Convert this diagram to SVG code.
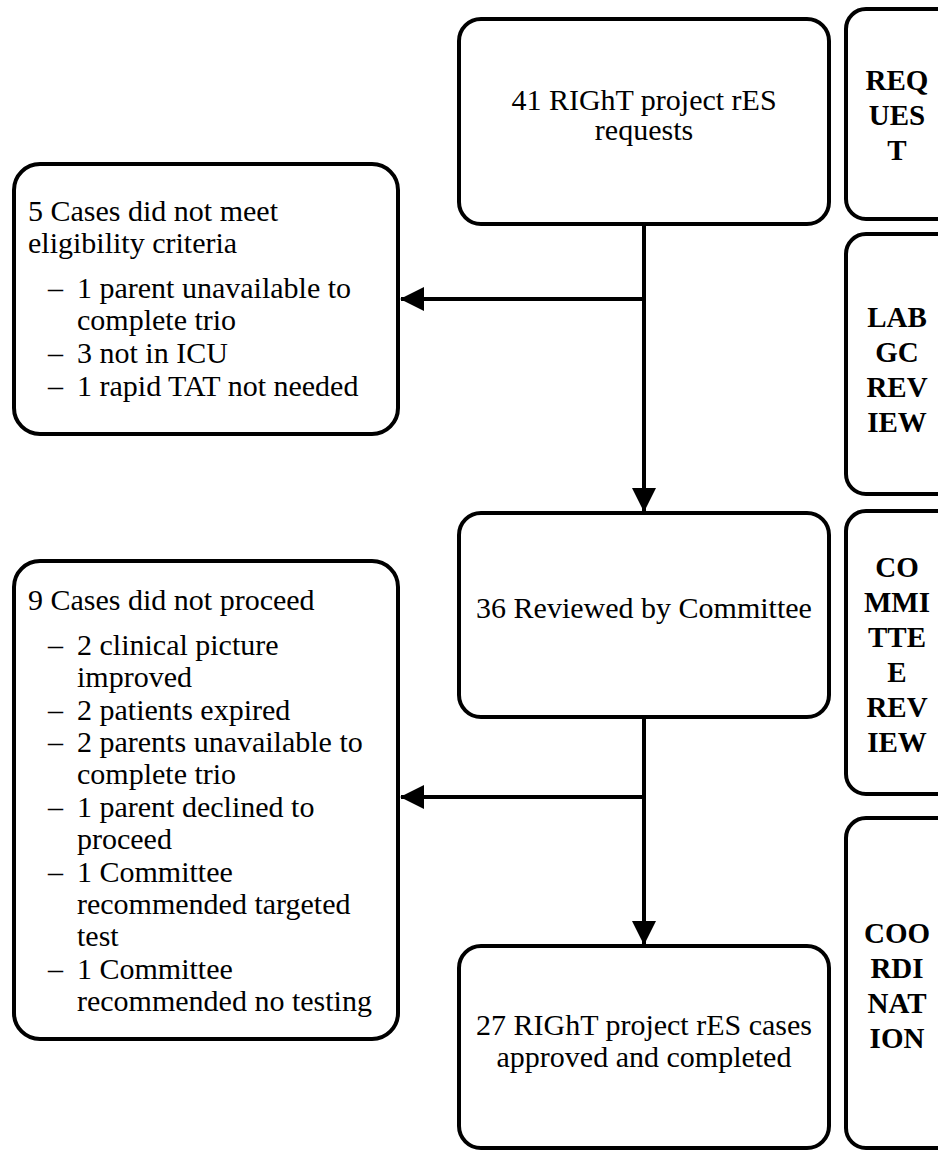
<svg xmlns="http://www.w3.org/2000/svg" width="938" height="1151" viewBox="0 0 938 1151">
<defs>
<style>
.box{fill:#fff;stroke:#000;stroke-width:4}
.t{font-size:30px;fill:#000}
.c{text-anchor:middle}
.lab{font-size:29px;font-weight:bold;fill:#000;text-anchor:middle}
.con{stroke:#000;stroke-width:4;fill:none}
</style>
<marker id="ah" markerUnits="userSpaceOnUse" markerWidth="24" markerHeight="24" viewBox="0 0 24 24" refX="23" refY="12" orient="auto">
<path d="M0,0 L24,12 L0,24 Z" fill="#000"/>
</marker>
</defs>
<rect width="938" height="1151" fill="#fff"/>
<g id="connectors">
<line class="con" x1="644" y1="225" x2="644" y2="511" marker-end="url(#ah)"/>
<line class="con" x1="646" y1="299" x2="401" y2="299" marker-end="url(#ah)"/>
<line class="con" x1="644" y1="717" x2="644" y2="944" marker-end="url(#ah)"/>
<line class="con" x1="646" y1="797" x2="401" y2="797" marker-end="url(#ah)"/>
</g>
<g font-family="'Liberation Serif', 'Times New Roman', 'DejaVu Serif', serif">
<g id="n1">
<rect class="box" x="459" y="19" width="370" height="205" rx="22"/>
<text class="t c" x="644" y="110">41 RIGhT project rES</text>
<text class="t c" x="644" y="140">requests</text>
</g>
<g id="n2">
<rect class="box" x="459" y="513" width="370" height="204" rx="22"/>
<text class="t c" x="644" y="618">36 Reviewed by Committee</text>
</g>
<g id="n3">
<rect class="box" x="459" y="946" width="370" height="202" rx="22"/>
<text class="t c" x="644" y="1035">27 RIGhT project rES cases</text>
<text class="t c" x="644" y="1067">approved and completed</text>
</g>
<g id="x1">
<rect class="box" x="14" y="164" width="384" height="270" rx="26"/>
<text class="t" x="28" y="221">5 Cases did not meet</text>
<text class="t" x="28" y="253">eligibility criteria</text>
<text class="t" x="48" y="298">–</text><text class="t" x="77" y="298">1 parent unavailable to</text>
<text class="t" x="77" y="330">complete trio</text>
<text class="t" x="48" y="363">–</text><text class="t" x="77" y="363">3 not in ICU</text>
<text class="t" x="48" y="396">–</text><text class="t" x="77" y="396">1 rapid TAT not needed</text>
</g>
<g id="x2">
<rect class="box" x="14" y="561" width="384" height="478" rx="26"/>
<text class="t" x="28" y="610">9 Cases did not proceed</text>
<text class="t" x="48" y="655">–</text><text class="t" x="77" y="655">2 clinical picture</text>
<text class="t" x="77" y="687">improved</text>
<text class="t" x="48" y="720">–</text><text class="t" x="77" y="720">2 patients expired</text>
<text class="t" x="48" y="752">–</text><text class="t" x="77" y="752">2 parents unavailable to</text>
<text class="t" x="77" y="784">complete trio</text>
<text class="t" x="48" y="817">–</text><text class="t" x="77" y="817">1 parent declined to</text>
<text class="t" x="77" y="849">proceed</text>
<text class="t" x="48" y="882">–</text><text class="t" x="77" y="882">1 Committee</text>
<text class="t" x="77" y="914">recommended targeted</text>
<text class="t" x="77" y="946">test</text>
<text class="t" x="48" y="979">–</text><text class="t" x="77" y="979">1 Committee</text>
<text class="t" x="77" y="1011">recommended no testing</text>
</g>
<g id="s1">
<rect class="box" x="846" y="9" width="110" height="210" rx="20"/>
<text class="lab" x="897" y="90">REQ</text>
<text class="lab" x="897" y="125">UES</text>
<text class="lab" x="897" y="160">T</text>
</g>
<g id="s2">
<rect class="box" x="846" y="234" width="110" height="260" rx="20"/>
<text class="lab" x="897" y="327">LAB</text>
<text class="lab" x="897" y="362">GC</text>
<text class="lab" x="897" y="397">REV</text>
<text class="lab" x="897" y="432">IEW</text>
</g>
<g id="s3">
<rect class="box" x="846" y="511" width="110" height="283" rx="20"/>
<text class="lab" x="897" y="577">CO</text>
<text class="lab" x="897" y="612">MMI</text>
<text class="lab" x="897" y="647">TTE</text>
<text class="lab" x="897" y="682">E</text>
<text class="lab" x="897" y="717">REV</text>
<text class="lab" x="897" y="752">IEW</text>
</g>
<g id="s4">
<rect class="box" x="846" y="818" width="110" height="330" rx="20"/>
<text class="lab" x="897" y="943">COO</text>
<text class="lab" x="897" y="978">RDI</text>
<text class="lab" x="897" y="1013">NAT</text>
<text class="lab" x="897" y="1048">ION</text>
</g>
</g>
</svg>
